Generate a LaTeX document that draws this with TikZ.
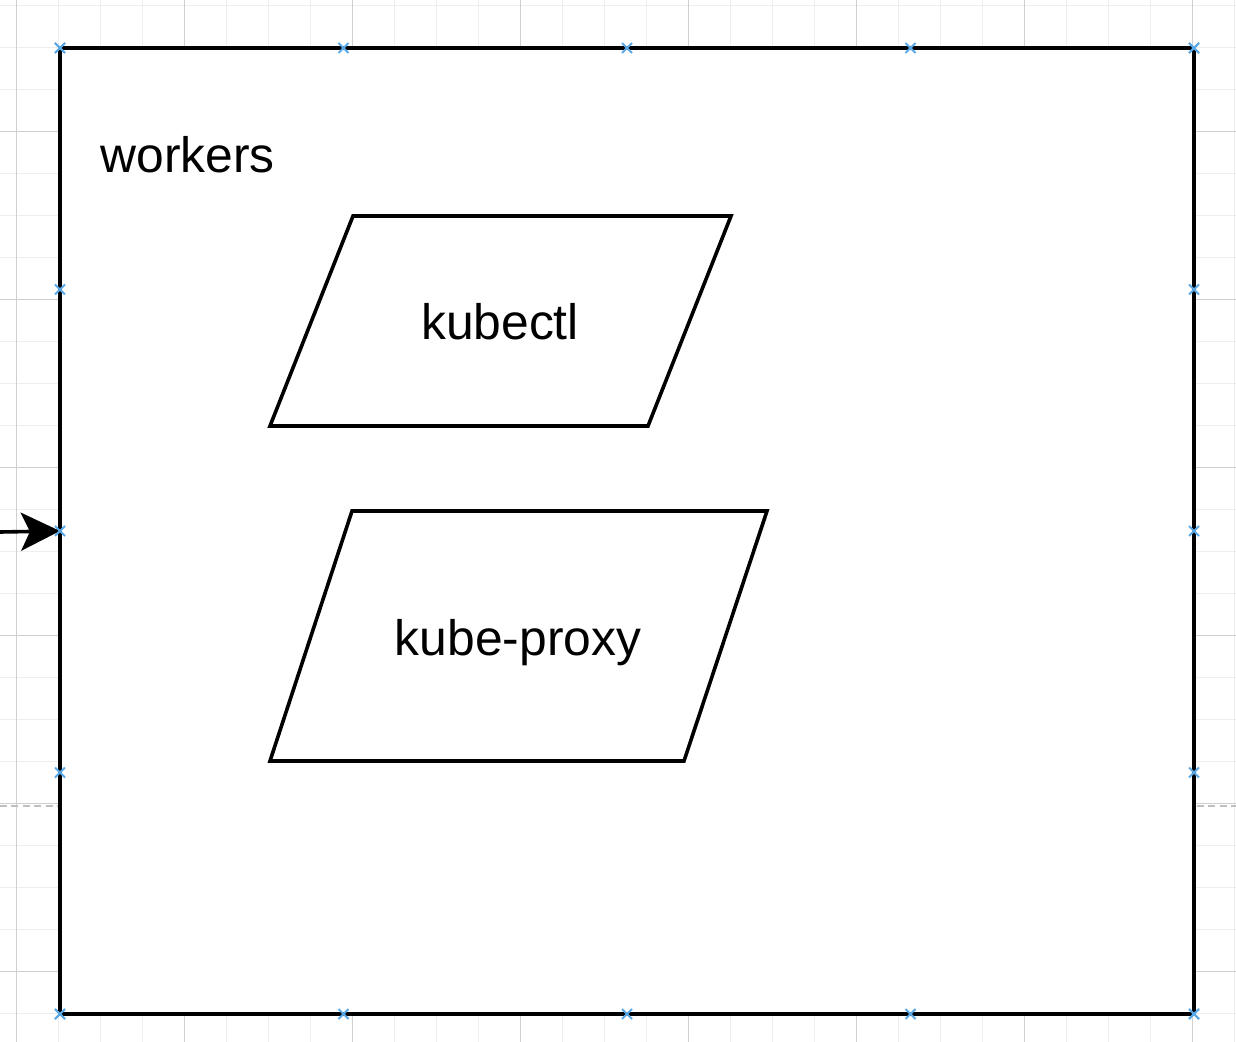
\documentclass[tikz,border=0pt]{standalone}
\usepackage{fontspec}
\setmainfont{Liberation Sans}
\usetikzlibrary{arrows.meta,calc}
\definecolor{gridminor}{HTML}{EEEEEE}
\definecolor{gridmajor}{HTML}{D0D0D0}
\definecolor{pagebreak}{HTML}{C0C0C0}
\definecolor{pinblue}{HTML}{5AA9E6}

\begin{document}
\begin{tikzpicture}[x=0.5pt, y=-0.5pt, >={Stealth[length=19.5pt,width=19pt,inset=4.5pt]},
    frame/.style={draw, line width=1.8pt, fill=white, inner sep=0pt, outer sep=0pt,
      minimum width=567pt, minimum height=483pt},
    shapeline/.style={draw, line width=1.8pt, line join=miter, fill=white},
    txt/.style={font=\fontsize{24.9}{30}\selectfont, inner sep=0pt},
    pinx/.style={draw=pinblue, line width=1pt}]
    % Fix the canvas
    \useasboundingbox[fill=white] (0,0) rectangle (1236,1042);

    % Draw the background grid
    \foreach \x in {16.5,58.5,...,1236} \draw[gridminor, line width=0.6pt] (\x,0) -- (\x,1042);
    \foreach \y in {5.3,47.3,...,1042} \draw[gridminor, line width=0.6pt] (0,\y) -- (1236,\y);
    \foreach \x in {16.5,184.5,...,1236} \draw[gridmajor, line width=0.6pt] (\x,0) -- (\x,1042);
    \foreach \y in {131.3,299.3,...,1042} \draw[gridmajor, line width=0.6pt] (0,\y) -- (1236,\y);
    \draw[pagebreak, line width=0.7pt, dash pattern=on 3.5pt off 2.2pt] (0,806) -- (1236,806);

    % Draw the workers frame
    \node[frame] (box) at (627,531) {};
    \node[txt, anchor=base west] (workers) at (100,173) {workers};

    % Define the two components
    \def\partA{(353,216) -- (731,216) -- (648,426) -- (270,426) -- cycle}
    \def\partB{(352,511) -- (767,511) -- (684,761) -- (270,761) -- cycle}

    % Draw the two components
    \draw[shapeline] \partA;
    \node[txt, anchor=base] (kubectl) at (500,340) {kubectl};
    \draw[shapeline] \partB;
    \node[txt, anchor=base] (proxy) at (518,655) {kube-proxy};

    % Incoming edge
    \coordinate (src) at (0,532);
    \draw[->, line width=1.8pt] (src) -- (box.west);

    % Connection points on the frame
    \foreach \t in {0,0.25,0.5,0.75,1} {
      \foreach \a/\b in {north west/north east, south west/south east,
                         north west/south west, north east/south east} {
        \draw[pinx] ($(box.\a)!\t!(box.\b)$) +(-5,-5) -- +(5,5)
                                              +(-5,5) -- +(5,-5);
      }
    }
  \end{tikzpicture}
\end{document}
